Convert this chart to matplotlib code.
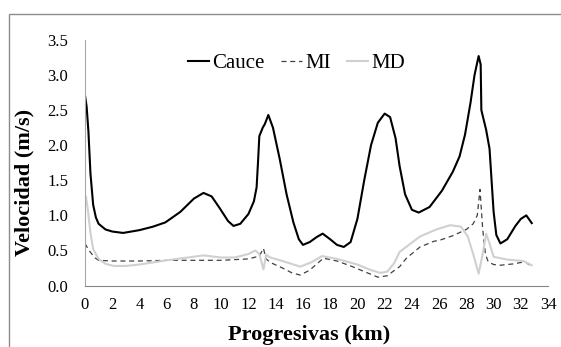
import matplotlib.pyplot as plt
from matplotlib.patches import Rectangle

plt.rcParams['font.family'] = 'Liberation Serif'

# Cauce
x_cauce = [0, 0.12, 0.25, 0.4, 0.6, 0.8, 1.0, 1.5, 2.0, 2.8, 4.0, 5.0, 5.9, 7.0, 8.0, 8.7, 9.3, 9.9,
           10.5, 10.9, 11.4, 12.0, 12.4, 12.6, 12.7, 12.8, 13.05, 13.2, 13.46, 13.8, 14.3, 14.8,
           15.3, 15.7, 16.0, 16.5, 17.0, 17.45, 18.0, 18.5, 19.0, 19.5, 20.0, 20.5, 21.0, 21.5,
           22.0, 22.4, 22.8, 23.1, 23.5, 24.0, 24.5, 25.3, 26.2, 27.0, 27.5, 27.9, 28.3, 28.6,
           28.9, 29.05, 29.1, 29.45, 29.7, 29.85, 30.0, 30.2, 30.5, 31.0, 31.6, 32.0, 32.4, 32.8]
v_cauce = [2.71, 2.55, 2.2, 1.6, 1.15, 0.97, 0.88, 0.80, 0.77, 0.75, 0.79, 0.84, 0.90, 1.05, 1.24, 1.32, 1.27, 1.10,
           0.92, 0.85, 0.88, 1.02, 1.20, 1.40, 1.75, 2.13, 2.25, 2.3, 2.43, 2.25, 1.8, 1.3,
           0.90, 0.66, 0.58, 0.62, 0.69, 0.74, 0.66, 0.58, 0.55, 0.62, 0.95, 1.50, 2.00, 2.32,
           2.45, 2.40, 2.10, 1.70, 1.30, 1.08, 1.04, 1.12, 1.35, 1.62, 1.84, 2.15, 2.6, 3.0,
           3.27, 3.15, 2.5, 2.22, 1.95, 1.5, 1.05, 0.72, 0.60, 0.66, 0.85, 0.95, 1.0, 0.89]

# MI (margen izquierda)
x_mi = [0, 0.3, 0.7, 1.0, 2.0, 4.0, 6.0, 8.0, 10.0, 12.0, 12.8, 13.1, 13.3, 13.6, 14.5, 15.2, 15.8,
        16.5, 17.5, 18.5, 19.5, 20.5, 21.5, 22.2, 22.6, 23.1, 23.6, 24.6, 25.6, 26.1, 27.0, 28.0,
        28.5, 28.8, 29.0, 29.2, 29.4, 29.6, 30.0, 30.5, 31.5, 32.3, 32.8]
v_mi = [0.60, 0.50, 0.40, 0.36, 0.35, 0.35, 0.36, 0.36, 0.36, 0.38, 0.42, 0.53, 0.38, 0.33, 0.25, 0.18, 0.15,
        0.22, 0.39, 0.35, 0.28, 0.20, 0.12, 0.14, 0.20, 0.27, 0.39, 0.55, 0.63, 0.65, 0.71, 0.80,
        0.88, 1.0, 1.37, 0.8, 0.45, 0.34, 0.30, 0.29, 0.31, 0.34, 0.27]

# MD (margen derecha)
x_md = [0, 0.07, 0.2, 0.4, 0.6, 1.0, 1.5, 2.1, 3.0, 4.0, 6.0, 8.7, 10.0, 11.0, 12.0, 12.5, 12.8, 13.1,
        13.3, 13.6, 14.5, 15.8, 16.6, 17.4, 18.5, 20.0, 21.0, 21.7, 22.2, 22.7, 23.1, 24.6, 25.8,
        26.8, 27.6, 28.1, 28.5, 28.9, 29.2, 29.45, 29.7, 30.0, 31.0, 32.2, 32.8]
v_md = [1.15, 1.27, 1.10, 0.75, 0.52, 0.38, 0.31, 0.28, 0.28, 0.30, 0.36, 0.43, 0.40, 0.40, 0.45, 0.50, 0.45, 0.23,
        0.44, 0.40, 0.35, 0.27, 0.33, 0.42, 0.38, 0.30, 0.22, 0.18, 0.20, 0.32, 0.48, 0.70, 0.80,
        0.86, 0.84, 0.70, 0.45, 0.17, 0.45, 0.74, 0.60, 0.41, 0.37, 0.35, 0.29]

fig = plt.figure(figsize=(5.61, 3.47), dpi=100)
ax = fig.add_axes([0.1515, 0.177, 0.8255, 0.708])

ax.plot(x_cauce, v_cauce, color='black', lw=1.5, label='Cauce')
ax.plot(x_mi, v_mi, color='#404040', lw=0.9, ls=(0, (4, 3)), label='MI')
ax.plot(x_md, v_md, color='#d0d0d0', lw=1.5, label='MD')

ax.set_xlim(0, 34)
ax.set_ylim(0, 3.5)
ax.set_xticks(range(0, 35, 2))
ax.set_yticks([0, 0.5, 1, 1.5, 2, 2.5, 3, 3.5])
ax.set_yticklabels(['0.0', '0.5', '1.0', '1.5', '2.0', '2.5', '3.0', '3.5'])
ax.tick_params(length=0, labelsize=12)
ax.tick_params(axis='x', pad=8)
ax.tick_params(axis='y', pad=12)

for s in ['top', 'right']:
    ax.spines[s].set_visible(False)
ax.spines['left'].set_color('#a6a6a6')
ax.spines['bottom'].set_color('#868686')

ax.set_xlabel('Progresivas (km)', fontsize=16, fontweight='bold', va='center')
ax.xaxis.set_label_coords(0.484, -0.2)
ax.set_ylabel('Velocidad (m/s)', fontsize=16, fontweight='bold', va='center')
ax.yaxis.set_label_coords(-0.13, 0.42)

fig.legend(*ax.get_legend_handles_labels(), loc='center', bbox_to_anchor=(0.5285, 0.818),
           ncol=3, frameon=False, fontsize=15, handlelength=1.0, handletextpad=0.15,
           columnspacing=0.8, borderpad=0, borderaxespad=0)

fig.patches.append(Rectangle((9 / 561, -0.02), 1.0, 1 - 14 / 347 + 0.02,
                             transform=fig.transFigure, fill=False,
                             edgecolor='#8c8c8c', lw=1.0))

fig.savefig('out.png', dpi=100)
